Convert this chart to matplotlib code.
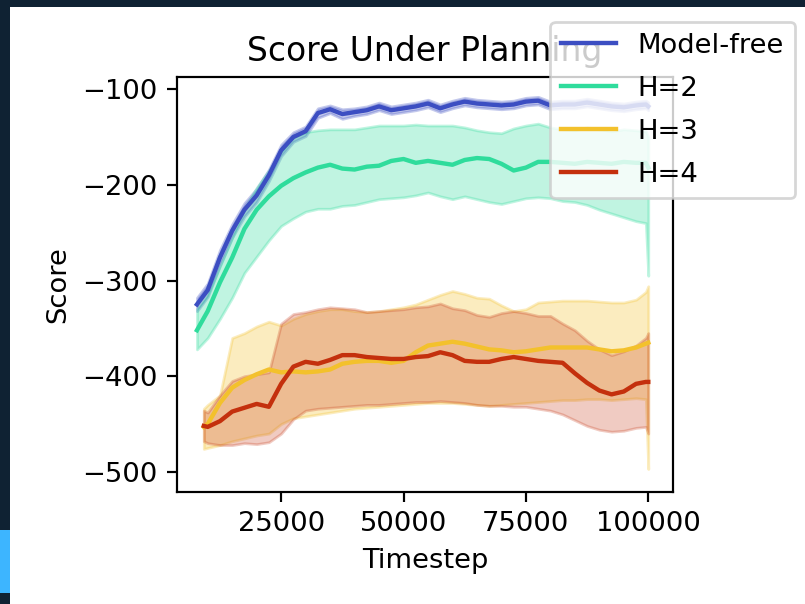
import matplotlib
matplotlib.use('Agg')
import matplotlib.pyplot as plt
from matplotlib.patches import Rectangle

# timesteps (Model-free, H=2 start a bit earlier than H=3 / H=4)
steps = [7800, 10000, 12500, 15000, 17500, 20000, 22500, 25000, 27500, 30000,
         32500, 35000, 37500, 40000, 42500, 45000, 47500, 50000, 52500, 55000,
         57500, 60000, 62500, 65000, 67500, 70000, 72500, 75000, 77500, 80000,
         82500, 85000, 87500, 90000, 92500, 95000, 97500, 99500, 100000]
steps_h = [9200] + steps[1:]

names = ['Model-free', 'H=2', 'H=3', 'H=4']
colors = ['#3c4ec2', '#2fdc9c', '#f3c12c', '#c4300d']
band_alpha = [0.3, 0.3, 0.3, 0.25]

mf_mean = [-325, -310, -276, -248, -226, -211, -190, -164, -150, -144,
           -125, -121, -126, -124, -122, -118, -122, -120, -118, -115,
           -120, -116, -113, -115, -116, -117, -116, -113, -112, -117,
           -116, -116, -114, -116, -118, -119, -117, -116, -118]
mf_hi = [-318, -303, -268, -241, -219, -204, -184, -158, -145, -139,
         -120, -117, -121, -120, -118, -114, -118, -116, -114, -111,
         -116, -112, -109, -111, -112, -113, -112, -109, -108, -113,
         -112, -112, -110, -112, -114, -115, -113, -112, -114]
mf_lo = [-332, -317, -284, -255, -233, -218, -196, -170, -155, -149,
         -130, -125, -131, -128, -126, -122, -126, -124, -122, -119,
         -124, -120, -117, -119, -120, -121, -120, -117, -116, -121,
         -120, -120, -118, -120, -122, -123, -121, -120, -122]

h2_mean = [-352, -332, -302, -276, -246, -226, -212, -201, -193, -187,
           -182, -179, -183, -184, -181, -180, -175, -173, -177, -175,
           -177, -179, -174, -172, -173, -178, -185, -182, -176, -176,
           -177, -178, -176, -177, -178, -176, -177, -177, -182]
h2_hi = [-330, -315, -285, -255, -225, -203, -185, -165, -150, -145,
         -143, -142, -142, -142, -140, -138, -138, -138, -137, -138,
         -138, -138, -140, -143, -145, -146, -141, -138, -136, -140,
         -142, -143, -140, -142, -144, -142, -143, -144, -150]
h2_lo = [-372, -360, -340, -318, -292, -275, -258, -243, -235, -228,
         -225, -225, -222, -221, -218, -215, -214, -213, -211, -208,
         -212, -215, -212, -215, -218, -220, -217, -214, -213, -214,
         -217, -218, -221, -226, -230, -234, -238, -240, -295]

h3_mean = [-453, -450, -428, -412, -404, -398, -393, -396, -395, -396,
           -395, -393, -387, -385, -384, -384, -386, -384, -375, -368,
           -366, -364, -366, -369, -372, -373, -375, -374, -372, -370,
           -370, -370, -370, -372, -374, -373, -370, -366, -365]
h3_hi = [-434, -430, -420, -360, -355, -348, -343, -347, -340, -335,
         -332, -330, -330, -332, -333, -332, -330, -328, -325, -320,
         -315, -311, -314, -318, -319, -326, -332, -330, -323, -322,
         -321, -321, -321, -322, -323, -323, -320, -312, -306]
h3_lo = [-476, -475, -472, -468, -465, -462, -460, -450, -444, -442,
         -440, -438, -436, -434, -433, -432, -431, -430, -429, -428,
         -428, -428, -429, -430, -431, -430, -429, -428, -427, -426,
         -425, -425, -424, -424, -425, -424, -423, -424, -497]

h4_mean = [-452, -453, -447, -437, -433, -429, -432, -408, -390, -385,
           -387, -383, -378, -378, -380, -381, -382, -382, -380, -379,
           -375, -378, -384, -385, -385, -382, -380, -382, -384, -385,
           -386, -397, -407, -415, -419, -416, -408, -406, -406]
h4_hi = [-436, -438, -420, -405, -400, -398, -396, -345, -335, -333,
         -330, -328, -329, -330, -333, -332, -331, -330, -328, -327,
         -324, -329, -331, -336, -338, -334, -332, -334, -337, -337,
         -345, -352, -363, -372, -378, -374, -368, -360, -355]
h4_lo = [-468, -470, -472, -472, -470, -471, -469, -460, -445, -436,
         -434, -433, -432, -431, -430, -430, -429, -428, -427, -427,
         -426, -427, -428, -430, -431, -431, -432, -432, -434, -436,
         -440, -446, -452, -456, -458, -457, -454, -453, -460]

x_ticks = [25000, 50000, 75000, 100000]
y_ticks = [-500, -400, -300, -200, -100]

W, H, DPI = 805, 604, 197
fig = plt.figure(figsize=((W + 0.3) / DPI, (H + 0.3) / DPI), dpi=DPI, facecolor='#0f2233')
# white page inside the dark screenshot border
fig.patches.append(Rectangle((10 / W, 0), 1 - 10 / W, 1 - 7 / H, transform=fig.transFigure,
                             facecolor='white', edgecolor='none', zorder=-10))
fig.patches.append(Rectangle((0, 11 / H), 10 / W, 63 / H, transform=fig.transFigure,
                             facecolor='#3db5ff', edgecolor='none', zorder=-10))

ax = fig.add_axes([177 / W, 1 - 492 / H, (673 - 177) / W, (492 - 77) / H])

series = [
    (steps, mf_mean, mf_lo, mf_hi),
    (steps, h2_mean, h2_lo, h2_hi),
    (steps_h, h3_mean, h3_lo, h3_hi),
    (steps_h, h4_mean, h4_lo, h4_hi),
]
for (t, m, lo, hi), name, c, a in zip(series, names, colors, band_alpha):
    ax.fill_between(t, lo, hi, color=c, alpha=a)
    ax.plot(t, m, color=c, label=name, lw=1.6)

ax.set_xlim(3740, 105100)
ax.set_ylim(-521, -87)
ax.set_xticks(x_ticks)
ax.set_yticks(y_ticks)
ax.set_title('Score Under Planning')
ax.set_xlabel('Timestep')
ax.set_ylabel('Score')

fig.legend(loc='upper left', bbox_to_anchor=(550 / W, 1 - 22 / H), borderaxespad=0,
           labelspacing=0.62)

fig.savefig('out.png', dpi=DPI, facecolor=fig.get_facecolor())
